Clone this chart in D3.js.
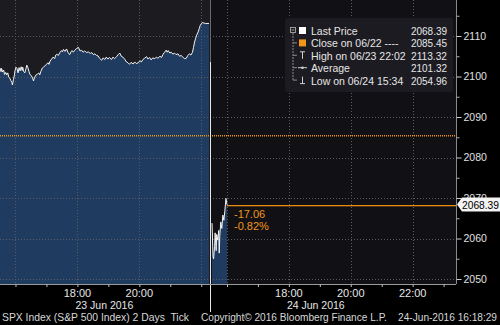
<!DOCTYPE html>
<html><head><meta charset="utf-8">
<script src="https://cdn.jsdelivr.net/npm/d3@7"></script>
<style>html,body{margin:0;padding:0;background:#000;}svg{display:block;}</style>
</head><body>
<script>
const day1Times = ["15:30","15:32","15:33","15:35","15:37","15:39","15:41","15:43","15:45","15:47","15:49","15:51","15:53","15:54","15:56","15:58","15:59","16:01","16:03","16:05","16:07","16:09","16:11","16:13","16:14","16:16","16:18","16:20","16:22","16:24","16:26","16:28","16:31","16:33","16:35","16:36","16:39","16:42","16:45","16:47","16:49","16:52","16:54","16:57","17:00","17:03","17:05","17:07","17:10","17:13","17:16","17:18","17:20","17:23","17:26","17:29","17:31","17:33","17:36","17:39","17:42","17:45","17:48","17:50","17:52","17:55","17:58","18:02","18:05","18:08","18:11","18:14","18:18","18:21","18:25","18:28","18:31","18:34","18:37","18:40","18:43","18:47","18:50","18:53","18:56","18:59","19:02","19:06","19:09","19:12","19:16","19:19","19:22","19:25","19:29","19:32","19:35","19:38","19:41","19:44","19:48","19:51","19:54","19:58","20:01","20:04","20:07","20:10","20:14","20:17","20:20","20:23","20:26","20:30","20:33","20:36","20:40","20:43","20:46","20:49","20:52","20:54","20:56","20:59","21:02","21:05","21:08","21:11","21:15","21:18","21:21","21:25","21:28","21:31","21:34","21:37","21:40","21:43","21:45","21:47","21:49","21:51","21:54","21:56","21:58","22:00","22:02","22:08","22:15"];
const day1Values = [2102.1,2101.2,2102.0,2101.1,2101.6,2100.5,2101.0,2100.4,2100.9,2099.8,2099.6,2099.0,2098.6,2097.9,2099.2,2100.4,2101.4,2102.3,2102.0,2100.9,2102.2,2101.4,2102.4,2101.5,2102.3,2101.2,2100.9,2101.8,2102.8,2102.2,2101.3,2100.5,2100.2,2099.6,2098.9,2099.4,2100.3,2100.5,2100.9,2100.4,2101.2,2102.1,2102.3,2102.6,2103.0,2103.4,2103.0,2103.8,2104.3,2104.8,2104.4,2105.3,2105.5,2105.2,2105.9,2106.4,2106.1,2106.7,2106.2,2106.8,2105.9,2105.4,2106.2,2106.4,2106.0,2106.5,2106.9,2107.2,2106.3,2106.5,2106.0,2106.3,2105.9,2106.1,2105.7,2105.9,2105.4,2105.6,2105.2,2105.1,2104.5,2104.0,2104.6,2104.2,2104.8,2104.3,2104.7,2104.2,2104.8,2104.4,2104.9,2105.4,2105.8,2105.0,2104.7,2104.2,2103.6,2103.4,2103.0,2103.5,2103.1,2103.6,2103.2,2103.4,2103.9,2103.6,2104.2,2104.5,2104.9,2104.3,2104.7,2104.1,2104.6,2104.4,2104.8,2104.5,2105.0,2104.7,2105.5,2106.0,2106.5,2106.0,2106.4,2105.8,2106.0,2105.5,2105.8,2105.4,2105.6,2105.0,2105.2,2104.7,2104.4,2104.5,2105.2,2105.6,2105.3,2106.0,2107.2,2108.5,2109.4,2110.2,2111.0,2111.8,2112.6,2113.0,2113.32,2113.1,2113.1];
const day2Times = ["15:31","15:33","15:34","15:36","15:37","15:39","15:40","15:42","15:44","15:45","15:46","15:48","15:50","15:52","15:54","15:56","15:58","16:00"];
const day2Values = [2063.8,2055.5,2054.96,2058.0,2061.4,2057.0,2061.0,2059.6,2062.0,2056.4,2060.5,2064.1,2062.5,2065.8,2064.5,2067.0,2069.9,2068.39];
const yTicks = [2050,2060,2070,2080,2090,2100,2110];
const yMinorTicks = [2055,2065,2075,2085,2095,2105,2115];
const hourTicks = ["16:00","17:00","18:00","19:00","20:00","21:00","22:00","23:00"];
const day1Labels = ["18:00","20:00"];
const day2Labels = ["18:00","20:00","22:00"];
const dateLabels = ["23 Jun 2016","24 Jun 2016"];
const lastPrice = 2068.39;
const prevClose = 2085.45;
const legendNames = ["Last Price","Close on 06/22 ----","High on 06/23 22:02","Average","Low on 06/24 15:34"];
const legendValues = ["2068.39","2085.45","2113.32","2101.32","2054.96"];
const footerLeft = "SPX Index (S&P 500 Index) 2 Days  Tick";
const footerRight = "Copyright\u00A9 2016 Bloomberg Finance L.P.    24-Jun-2016 16:18:29";

const W = 500, H = 325;
const plotR = 456, plotB = 284, split = 211;
const toH = s => { const [h,m] = s.split(":").map(Number); return h + m/60; };
const font = "'Liberation Sans', Arial, sans-serif";
const orange = "#f0961a";

const svg = d3.select("body").append("svg").attr("width", W).attr("height", H)
  .style("background", "#000").attr("font-family", font);

const y = d3.scaleLinear().domain([2048.77, 2118.89]).range([plotB, 0]);
const x1 = d3.scaleLinear().domain([15.5, 22.25]).range([0, 209]);
const x2 = d3.scaleLinear().domain([15.5, 23.4]).range([211.5, plotR]);

// backgrounds
svg.append("rect").attr("x",0).attr("y",0).attr("width",split).attr("height",plotB).attr("fill","#1c1b20");
svg.append("rect").attr("x",split).attr("y",0).attr("width",plotR-split).attr("height",plotB).attr("fill","#111015");

const d1 = day1Times.map((t,i)=>({t:toH(t), v:day1Values[i]}));
const d2 = day2Times.map((t,i)=>({t:toH(t), v:day2Values[i]}));

const area1 = d3.area().x(d=>x1(d.t)).y0(plotB).y1(d=>y(d.v));
const area2 = d3.area().x(d=>x2(d.t)).y0(plotB).y1(d=>y(d.v));
svg.append("path").datum(d1).attr("d", area1).attr("fill","#1f3c60");
svg.append("path").datum(d2).attr("d", area2).attr("fill","#1f3c60");

// grid
const grid = svg.append("g").attr("stroke","#5a5a62").attr("stroke-width",1).attr("stroke-dasharray","1,2");
yTicks.forEach(v=>{
  grid.append("line").attr("x1",0).attr("x2",plotR).attr("y1",Math.round(y(v))+0.5).attr("y2",Math.round(y(v))+0.5);
});
["16:00","18:00","20:00","22:00"].forEach(t=>{
  grid.append("line").attr("x1",Math.round(x1(toH(t)))+0.5).attr("x2",Math.round(x1(toH(t)))+0.5).attr("y1",0).attr("y2",plotB);
  grid.append("line").attr("x1",Math.round(x2(toH(t)))+0.5).attr("x2",Math.round(x2(toH(t)))+0.5).attr("y1",0).attr("y2",plotB);
});

// previous close dotted line (drawn as small rects)
const pcY = Math.round(y(prevClose));
svg.append("g").selectAll("rect").data(d3.range(0, plotR, 2)).join("rect")
  .attr("x", d=>d).attr("y", pcY).attr("width",1).attr("height",1.5).attr("fill",orange);

// price lines
const line1 = d3.line().x(d=>x1(d.t)).y(d=>y(d.v));
const line2 = d3.line().x(d=>x2(d.t)).y(d=>y(d.v));
svg.append("path").datum(d1).attr("d", line1).attr("fill","none").attr("stroke","#f2f2f2").attr("stroke-width",1);
svg.append("path").datum(d2).attr("d", line2).attr("fill","none").attr("stroke","#f2f2f2").attr("stroke-width",1);

// session divider
svg.append("line").attr("x1",split-0.5).attr("x2",split-0.5).attr("y1",0).attr("y2",62).attr("stroke","#6a6a72");
svg.append("line").attr("x1",split-0.5).attr("x2",split-0.5).attr("y1",62).attr("y2",312).attr("stroke","#e8e8e8");

// last price line
const lastX = x2(toH(day2Times[day2Times.length-1]));
const lpY = Math.round(y(lastPrice));
svg.append("rect").attr("x",lastX).attr("y",lpY).attr("width",plotR-lastX).attr("height",1.3).attr("fill","#e88a10");
const chg = lastPrice - prevClose;
svg.append("text").attr("x",lastX+7).attr("y",y(lastPrice)+13).attr("fill",orange).attr("font-size",11).text(chg.toFixed(2));
svg.append("text").attr("x",lastX+7).attr("y",y(lastPrice)+25).attr("fill",orange).attr("font-size",11).text((chg/prevClose*100).toFixed(2)+"%");

// right axis
const yAxis = svg.append("g").attr("transform",`translate(${plotR+0.5},0)`)
  .call(d3.axisRight(y).tickValues(yTicks).tickSize(5).tickPadding(2).tickFormat(d3.format("d")));
yAxis.select(".domain").attr("stroke","#8a8a8a").attr("d",`M0,0V${plotB}`);
yAxis.selectAll(".tick line").attr("stroke","#d0d0d0");
yAxis.selectAll("text").attr("fill","#e0e0e0").attr("font-size",10.5).attr("font-family",font);
svg.append("g").attr("transform",`translate(${plotR+0.5},0)`)
  .call(d3.axisRight(y).tickValues(yMinorTicks).tickSize(3).tickFormat(""))
  .call(g=>{g.select(".domain").remove(); g.selectAll("line").attr("stroke","#b0b0b0");});

// last price tag
const ly = y(lastPrice);
svg.append("path").attr("d",`M457,${ly} L462,${ly-7} L500,${ly-7} L500,${ly+7} L462,${ly+7} Z`).attr("fill","#f4f4f4");
svg.append("text").attr("x",462).attr("y",ly+4).attr("fill","#000").attr("font-size",10.5).attr("textLength",37).attr("lengthAdjust","spacingAndGlyphs").text(lastPrice.toFixed(2));

// bottom axes
const bottom = svg.append("g");
bottom.append("line").attr("x1",0).attr("x2",plotR).attr("y1",plotB+0.5).attr("y2",plotB+0.5).attr("stroke","#9a9a9a");
const ax1 = bottom.append("g").attr("transform",`translate(0,${plotB})`)
  .call(d3.axisBottom(x1).tickValues(hourTicks.slice(0,7).map(toH)).tickSize(3).tickFormat(""));
const ax2 = bottom.append("g").attr("transform",`translate(0,${plotB})`)
  .call(d3.axisBottom(x2).tickValues(hourTicks.map(toH)).tickSize(3).tickFormat(""));
[ax1,ax2].forEach(a=>{a.select(".domain").remove(); a.selectAll("line").attr("stroke","#bdbdbd");});
day1Labels.forEach(t=>bottom.append("text").attr("x",x1(toH(t))).attr("y",297).attr("text-anchor","middle").attr("fill","#e6e6e6").attr("font-size",11).text(t));
day2Labels.forEach(t=>bottom.append("text").attr("x",x2(toH(t))).attr("y",297).attr("text-anchor","middle").attr("fill","#e6e6e6").attr("font-size",11).text(t));
bottom.append("text").attr("x",x1(19)-4).attr("y",309).attr("text-anchor","middle").attr("fill","#e6e6e6").attr("font-size",10.5).text(dateLabels[0]);
bottom.append("text").attr("x",x2(19)-4).attr("y",309).attr("text-anchor","middle").attr("fill","#e6e6e6").attr("font-size",10.5).text(dateLabels[1]);

// footer
svg.append("text").attr("x",2).attr("y",321).attr("fill","#d8d8d8").attr("font-size",10.5).attr("textLength",187).attr("lengthAdjust","spacingAndGlyphs").style("white-space","pre").text(footerLeft);
svg.append("text").attr("x",201).attr("y",321).attr("fill","#d8d8d8").attr("font-size",10).attr("textLength",296).attr("lengthAdjust","spacingAndGlyphs").style("white-space","pre").text(footerRight);

// legend
const lg = svg.append("g");
lg.append("rect").attr("x",285).attr("y",18).attr("width",168).attr("height",74).attr("rx",2).attr("fill","#1d1c22").attr("opacity",0.95);
const rowY = i => 31 + i*12.4;
// tree
lg.append("rect").attr("x",290.5).attr("y",rowY(0)-3.5).attr("width",5).attr("height",5).attr("fill","none").attr("stroke","#9a9a9a");
lg.append("line").attr("x1",291.5).attr("x2",294.5).attr("y1",rowY(0)-1).attr("y2",rowY(0)-1).attr("stroke","#9a9a9a");
lg.append("line").attr("x1",293).attr("x2",293).attr("y1",rowY(0)+2).attr("y2",rowY(4)).attr("stroke","#8a8a8a").attr("stroke-dasharray","2,1");
for(let i=1;i<5;i++) lg.append("line").attr("x1",293).attr("x2",297).attr("y1",rowY(i)-0.5).attr("y2",rowY(i)-0.5).attr("stroke","#8a8a8a");
// icons
lg.append("rect").attr("x",299).attr("y",rowY(0)-4).attr("width",7).attr("height",7).attr("fill","#ffffff");
lg.append("rect").attr("x",299).attr("y",rowY(1)-4).attr("width",7).attr("height",7).attr("fill",orange);
lg.append("path").attr("d",`M300,${rowY(2)-4}H305M302.5,${rowY(2)-4}V${rowY(2)+3}`).attr("stroke","#cfcfcf").attr("fill","none");
lg.append("path").attr("d",`M298,${rowY(3)-0.5}H307`).attr("stroke","#cfcfcf");
lg.append("circle").attr("cx",302.5).attr("cy",rowY(3)-0.5).attr("r",1.3).attr("fill","#cfcfcf");
lg.append("path").attr("d",`M300,${rowY(4)+3}H305M302.5,${rowY(4)-4}V${rowY(4)+3}`).attr("stroke","#cfcfcf").attr("fill","none");
legendNames.forEach((n,i)=>{
  lg.append("text").attr("x",311).attr("y",rowY(i)+4).attr("fill","#e6e6e6").attr("font-size",10.5).style("white-space","pre").text(n);
  lg.append("text").attr("x",447).attr("y",rowY(i)+4).attr("text-anchor","end").attr("fill","#e6e6e6").attr("font-size",10.5).attr("textLength",36).attr("lengthAdjust","spacingAndGlyphs").text(legendValues[i]);
});
</script>
</body></html>
